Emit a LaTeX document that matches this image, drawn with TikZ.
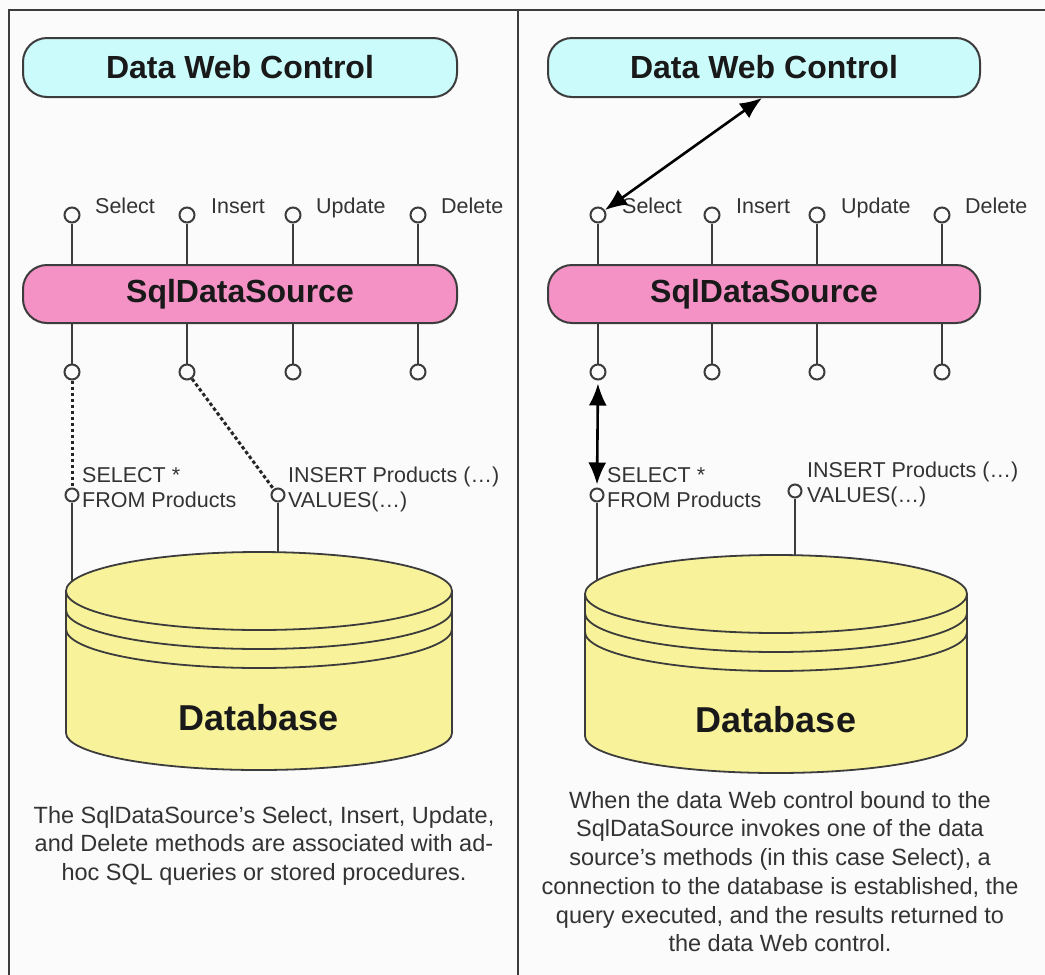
\documentclass[tikz,border=0pt]{standalone}
\usepackage{fontspec}
\setmainfont{Liberation Sans}
\usetikzlibrary{arrows.meta}
\definecolor{bgc}{HTML}{FAFBFA}
\definecolor{dwc}{HTML}{CCFBFB}
\definecolor{sqlc}{HTML}{F492C6}
\definecolor{dbc}{HTML}{F8F39B}
\definecolor{linec}{HTML}{3C3C3C}
\definecolor{txtc}{HTML}{333333}
\begin{document}
\begin{tikzpicture}[x=1pt,y=1pt,
 pill/.style={draw=linec, line width=2pt, rounded corners=24pt, minimum height=59pt, inner sep=0pt, font=\fontsize{32}{36}\selectfont\bfseries, text=black!90},
 pin/.style={circle, draw=linec, line width=2pt, fill=bgc, minimum size=15pt, inner sep=0pt},
 spin/.style={pin, minimum size=13pt},
 wire/.style={draw=linec, line width=1.9pt},
 dotwire/.style={draw=black!85, line width=3pt, dash pattern=on 3.5pt off 2.5pt},
 lbl/.style={font=\fontsize{21.5}{25}\selectfont, text=txtc, inner sep=0pt, anchor=base west},
 dbtext/.style={font=\fontsize{36}{40}\selectfont\bfseries, inner sep=0pt, text=black!90},
 captext/.style={font=\fontsize{23.5}{28.7}\selectfont, text=txtc, align=center, inner sep=0pt, anchor=north},
 dbl/.style={draw=black, line width=2.6pt, {Latex[length=22pt,width=18pt]}-{Latex[length=22pt,width=18pt]}},
 dbbody/.style={draw=linec, line width=1.8pt, fill=dbc}
]
\fill[bgc] (0,0) rectangle (1045,-975);
\useasboundingbox (0,0) rectangle (1045,-975);
% frame
\draw[linec, line width=2.5pt] (9,-975) -- (9,-10) -- (1045,-10);
\draw[linec, line width=2pt] (518,-10) -- (518,-975);

% ================= LEFT PANEL =================
\node[pill, fill=dwc, minimum width=434pt] (dwcL) at (240,-67.5) {Data Web Control};
\node[pill, fill=sqlc, minimum width=434pt, minimum height=58pt] (sqlL) at (240,-294) {SqlDataSource};
\foreach \n/\x in {1/72,2/187,3/293,4/418} {
  \node[pin] (tL\n) at (\x,-215) {};
  \node[pin] (bL\n) at (\x,-372) {};
  \draw[wire] (tL\n.south) -- (tL\n.south |- sqlL.north);
  \draw[wire] (bL\n.north |- sqlL.south) -- (bL\n.north);
}
\node[lbl] (mL1) at (95,-213) {Select};
\node[lbl] (mL2) at (211,-213) {Insert};
\node[lbl] (mL3) at (316,-213) {Update};
\node[lbl] (mL4) at (441,-213) {Delete};

\node[spin] (sL1) at (72,-495) {};
\node[spin] (sL2) at (278,-495) {};
\draw[dotwire] (bL1.south) -- (sL1.north);
\draw[dotwire] (bL2) -- (sL2);
\coordinate (dL1) at (72,-600);
\coordinate (dL2) at (278,-600);
\draw[wire] (sL1.south) -- (dL1);
\draw[wire] (sL2.south) -- (dL2);
\node[lbl] (qL1) at (82,-482) {SELECT *};
\node[lbl] (qL2) at (82,-507) {FROM Products};
\node[lbl] (qL3) at (288,-482) {INSERT Products (…)};
\node[lbl] (qL4) at (288,-507) {VALUES(…)};

% database left
\path[dbbody] (66,-591) -- (66,-733) arc[start angle=180,end angle=360,x radius=193,y radius=37] -- (452,-591) -- cycle;
\draw[dbbody] (259,-591) ellipse [x radius=193, y radius=39];
\draw[linec, line width=1.8pt] (66,-610) arc[start angle=180,end angle=360,x radius=193,y radius=39];
\draw[linec, line width=1.8pt] (66,-629) arc[start angle=180,end angle=360,x radius=193,y radius=39];
\node[dbtext] (dbL) at (259,-718) {Database};

\node[captext] (capL) at (264,-806) {The SqlDataSource's Select, Insert, Update,\\and Delete methods are associated with ad-\\hoc SQL queries or stored procedures.};

% ================= RIGHT PANEL =================
\node[pill, fill=dwc, minimum width=432pt] (dwcR) at (764,-67.5) {Data Web Control};
\node[pill, fill=sqlc, minimum width=432pt, minimum height=58pt] (sqlR) at (764,-294) {SqlDataSource};
\foreach \n/\x in {1/598,2/712,3/817,4/942} {
  \node[pin] (tR\n) at (\x,-215) {};
  \node[pin] (bR\n) at (\x,-372) {};
  \draw[wire] (tR\n.south) -- (tR\n.south |- sqlR.north);
  \draw[wire] (bR\n.north |- sqlR.south) -- (bR\n.north);
}
\node[lbl] (mR1) at (622,-213) {Select};
\node[lbl] (mR2) at (736,-213) {Insert};
\node[lbl] (mR3) at (841,-213) {Update};
\node[lbl] (mR4) at (965,-213) {Delete};

\coordinate (dwcRb) at (762,-98);
\draw[dbl] (tR1) -- (dwcRb);

\node[spin] (sR1) at (597,-495) {};
\node[spin] (sR2) at (795,-491) {};
\draw[dbl, shorten <=3pt, shorten >=3pt] (bR1.south) -- (sR1.north);
\coordinate (dR1) at (597,-600);
\coordinate (dR2) at (795,-600);
\draw[wire] (sR1.south) -- (dR1);
\draw[wire] (sR2.south) -- (dR2);
\node[lbl] (qR1) at (607,-482) {SELECT *};
\node[lbl] (qR2) at (607,-507) {FROM Products};
\node[lbl] (qR3) at (807,-477) {INSERT Products (…)};
\node[lbl] (qR4) at (807,-502) {VALUES(…)};

% database right
\path[dbbody] (585,-594) -- (585,-736) arc[start angle=180,end angle=360,x radius=191,y radius=37] -- (967,-594) -- cycle;
\draw[dbbody] (776,-594) ellipse [x radius=191, y radius=39];
\draw[linec, line width=1.8pt] (585,-613) arc[start angle=180,end angle=360,x radius=191,y radius=39];
\draw[linec, line width=1.8pt] (585,-632) arc[start angle=180,end angle=360,x radius=191,y radius=39];
\node[dbtext] (dbR) at (776,-720) {Database};

\node[captext] (capR) at (780,-791) {When the data Web control bound to the\\SqlDataSource invokes one of the data\\source's methods (in this case Select), a\\connection to the database is established, the\\query executed, and the results returned to\\the data Web control.};
\end{tikzpicture}
\end{document}
